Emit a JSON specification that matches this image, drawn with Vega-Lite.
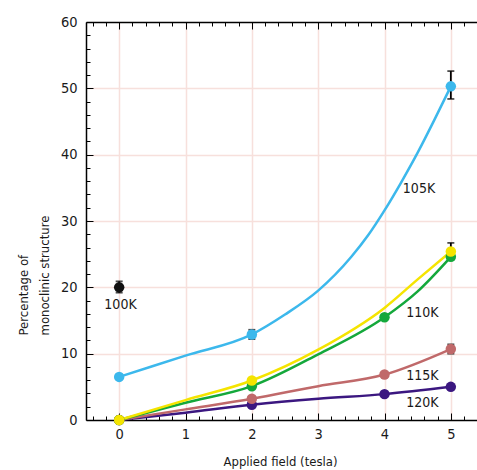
{
  "$schema": "https://vega.github.io/schema/vega-lite/v6.json",
  "width": 398,
  "height": 398,
  "autosize": {"type": "none"},
  "padding": {"left": 86, "top": 22, "right": 0, "bottom": 50},
  "background": "white",
  "config": {
    "view": {"stroke": null},
    "font": "Liberation Sans Narrow, DejaVu Sans Condensed, sans-serif",
    "axis": {
      "labelFont": "Liberation Sans Narrow, DejaVu Sans Condensed, sans-serif",
      "titleFont": "Liberation Sans Narrow, DejaVu Sans Condensed, sans-serif",
      "labelFontSize": 14.5,
      "titleFontSize": 13,
      "titleFontWeight": "normal",
      "labelColor": "#1a1a1a",
      "titleColor": "#1a1a1a",
      "domainColor": "#000000",
      "domainWidth": 1.5,
      "tickColor": "#000000",
      "tickWidth": 1,
      "labelOverlap": false,
      "labelFlush": false
    }
  },
  "datasets": {
    "curves": [
      {"series": "120K", "field": 0, "pct": 0},
      {"series": "120K", "field": 1, "pct": 1.1},
      {"series": "120K", "field": 2, "pct": 2.3},
      {"series": "120K", "field": 3, "pct": 3.2},
      {"series": "120K", "field": 4, "pct": 3.9},
      {"series": "120K", "field": 5, "pct": 5.0},
      {"series": "115K", "field": 0, "pct": 0},
      {"series": "115K", "field": 1, "pct": 1.6},
      {"series": "115K", "field": 2, "pct": 3.2},
      {"series": "115K", "field": 3, "pct": 5.1},
      {"series": "115K", "field": 4, "pct": 6.85},
      {"series": "115K", "field": 5, "pct": 10.7},
      {"series": "110K", "field": 0, "pct": 0},
      {"series": "110K", "field": 1, "pct": 2.6},
      {"series": "110K", "field": 2, "pct": 5.1},
      {"series": "110K", "field": 3, "pct": 9.9},
      {"series": "110K", "field": 4, "pct": 15.5},
      {"series": "110K", "field": 4.5, "pct": 19.4},
      {"series": "110K", "field": 5, "pct": 24.6},
      {"series": "107K", "field": 0, "pct": 0},
      {"series": "107K", "field": 1, "pct": 3.0},
      {"series": "107K", "field": 2, "pct": 5.95},
      {"series": "107K", "field": 3, "pct": 10.6},
      {"series": "107K", "field": 4, "pct": 16.9},
      {"series": "107K", "field": 4.5, "pct": 21.2},
      {"series": "107K", "field": 5, "pct": 25.4},
      {"series": "105K", "field": 0, "pct": 6.5},
      {"series": "105K", "field": 1, "pct": 9.7},
      {"series": "105K", "field": 2, "pct": 12.9},
      {"series": "105K", "field": 2.5, "pct": 15.9},
      {"series": "105K", "field": 3, "pct": 19.5},
      {"series": "105K", "field": 3.5, "pct": 24.6},
      {"series": "105K", "field": 3.75, "pct": 27.8},
      {"series": "105K", "field": 4, "pct": 31.6},
      {"series": "105K", "field": 4.25, "pct": 35.8},
      {"series": "105K", "field": 4.5, "pct": 40.3},
      {"series": "105K", "field": 4.75, "pct": 45.2},
      {"series": "105K", "field": 5, "pct": 50.3}
    ],
    "points": [
      {"series": "120K", "field": 0, "pct": 0},
      {"series": "120K", "field": 2, "pct": 2.3},
      {"series": "120K", "field": 4, "pct": 3.9},
      {"series": "120K", "field": 5, "pct": 5.0},
      {"series": "115K", "field": 0, "pct": 0},
      {"series": "115K", "field": 2, "pct": 3.2},
      {"series": "115K", "field": 4, "pct": 6.85},
      {"series": "115K", "field": 5, "pct": 10.7},
      {"series": "110K", "field": 0, "pct": 0},
      {"series": "110K", "field": 2, "pct": 5.1},
      {"series": "110K", "field": 4, "pct": 15.5},
      {"series": "110K", "field": 5, "pct": 24.6},
      {"series": "107K", "field": 0, "pct": 0},
      {"series": "107K", "field": 2, "pct": 5.95},
      {"series": "107K", "field": 5, "pct": 25.4},
      {"series": "105K", "field": 0, "pct": 6.5},
      {"series": "105K", "field": 2, "pct": 12.9},
      {"series": "105K", "field": 5, "pct": 50.3},
      {"series": "100K", "field": 0, "pct": 20.0}
    ],
    "errors": [
      {"field": 0, "lo": 19.2, "hi": 20.9},
      {"field": 2, "lo": 12.2, "hi": 13.6},
      {"field": 5, "lo": 48.4, "hi": 52.6},
      {"field": 5, "lo": 24.2, "hi": 26.7},
      {"field": 5, "lo": 10.0, "hi": 11.4}
    ],
    "labels": [
      {"text": "100K", "field": 0.02, "pct": 17.4},
      {"text": "105K", "field": 4.52, "pct": 34.8},
      {"text": "110K", "field": 4.57, "pct": 16.1},
      {"text": "115K", "field": 4.57, "pct": 6.6},
      {"text": "120K", "field": 4.57, "pct": 2.6}
    ]
  },
  "layer": [
    {
      "data": {"name": "curves"},
      "mark": {"type": "line", "strokeWidth": 2.5, "interpolate": "monotone"},
      "encoding": {
        "x": {
          "field": "field", "type": "quantitative",
          "scale": {"domain": [-0.5, 5.5], "nice": false, "zero": false},
          "axis": {
            "orient": "bottom",
            "values": [-0.4,-0.2,0,0.2,0.4,0.6,0.8,1,1.2,1.4,1.6,1.8,2,2.2,2.4,2.6,2.8,3,3.2,3.4,3.6,3.8,4,4.2,4.4,4.6,4.8,5,5.2,5.4],
            "labelExpr": "datum.value == round(datum.value) ? '' + datum.value : ''",
            "tickSize": {"condition": {"test": "datum.value == round(datum.value)", "value": -7}, "value": -4},
            "labelPadding": 14,
            "grid": true,
            "gridColor": "#f7e0dc",
            "gridWidth": 1.5,
            "gridOpacity": {"condition": {"test": "datum.value == round(datum.value) && datum.value >= 0", "value": 1}, "value": 0},
            "title": "Applied field (tesla)",
            "titleX": 194,
            "titleY": 45,
            "titleBaseline": "alphabetic"
          }
        },
        "y": {
          "field": "pct", "type": "quantitative",
          "scale": {"domain": [0, 60], "nice": false},
          "axis": {
            "orient": "left",
            "values": [0,2,4,6,8,10,12,14,16,18,20,22,24,26,28,30,32,34,36,38,40,42,44,46,48,50,52,54,56,58,60],
            "labelExpr": "datum.value % 10 == 0 ? '' + datum.value : ''",
            "tickSize": {"condition": {"test": "datum.value % 10 == 0", "value": -7}, "value": -4},
            "labelPadding": 16,
            "grid": true,
            "gridColor": "#f7e0dc",
            "gridWidth": 1.5,
            "gridOpacity": {"condition": {"test": "datum.value % 10 == 0 && datum.value > 0 && datum.value < 60", "value": 1}, "value": 0},
            "title": ["Percentage of", "monoclinic structure"],
            "titleAngle": -90,
            "titleAlign": "left",
            "titleBaseline": "top",
            "titleX": -69,
            "titleY": 313,
            "titleLineHeight": 21
          }
        },
        "color": {
          "field": "series", "type": "nominal",
          "scale": {"domain": ["100K","105K","107K","110K","115K","120K"], "range": ["#111111","#3cb8ec","#f5e400","#14a83b","#c0696a","#3b1780"]},
          "legend": null
        },
        "order": {"field": "field", "type": "quantitative"}
      }
    },
    {
      "data": {"name": "errors"},
      "mark": {"type": "errorbar", "color": "#000000", "thickness": 1.8, "ticks": {"size": 7, "thickness": 1.8, "color": "#000000"}},
      "encoding": {
        "x": {"field": "field", "type": "quantitative", "axis": null},
        "y": {"field": "lo", "type": "quantitative", "axis": null},
        "y2": {"field": "hi"}
      }
    },
    {
      "data": {"name": "points"},
      "mark": {"type": "circle", "size": 110, "opacity": 1},
      "encoding": {
        "x": {
          "field": "field", "type": "quantitative",
          "axis": {
            "orient": "top",
            "values": [-0.4,-0.2,0,0.2,0.4,0.6,0.8,1,1.2,1.4,1.6,1.8,2,2.2,2.4,2.6,2.8,3,3.2,3.4,3.6,3.8,4,4.2,4.4,4.6,4.8,5,5.2,5.4],
            "labels": false,
            "tickSize": {"condition": {"test": "datum.value == round(datum.value)", "value": -7}, "value": -4},
            "grid": false,
            "title": null
          }
        },
        "y": {"field": "pct", "type": "quantitative", "axis": null},
        "color": {"field": "series", "type": "nominal", "legend": null}
      }
    },
    {
      "data": {"name": "labels"},
      "mark": {"type": "text", "fontSize": 14, "color": "#1a1a1a", "align": "center", "baseline": "middle"},
      "encoding": {
        "x": {"field": "field", "type": "quantitative", "axis": null},
        "y": {"field": "pct", "type": "quantitative", "axis": null},
        "text": {"field": "text"}
      }
    }
  ],
  "resolve": {"axis": {"x": "independent", "y": "independent"}}
}
